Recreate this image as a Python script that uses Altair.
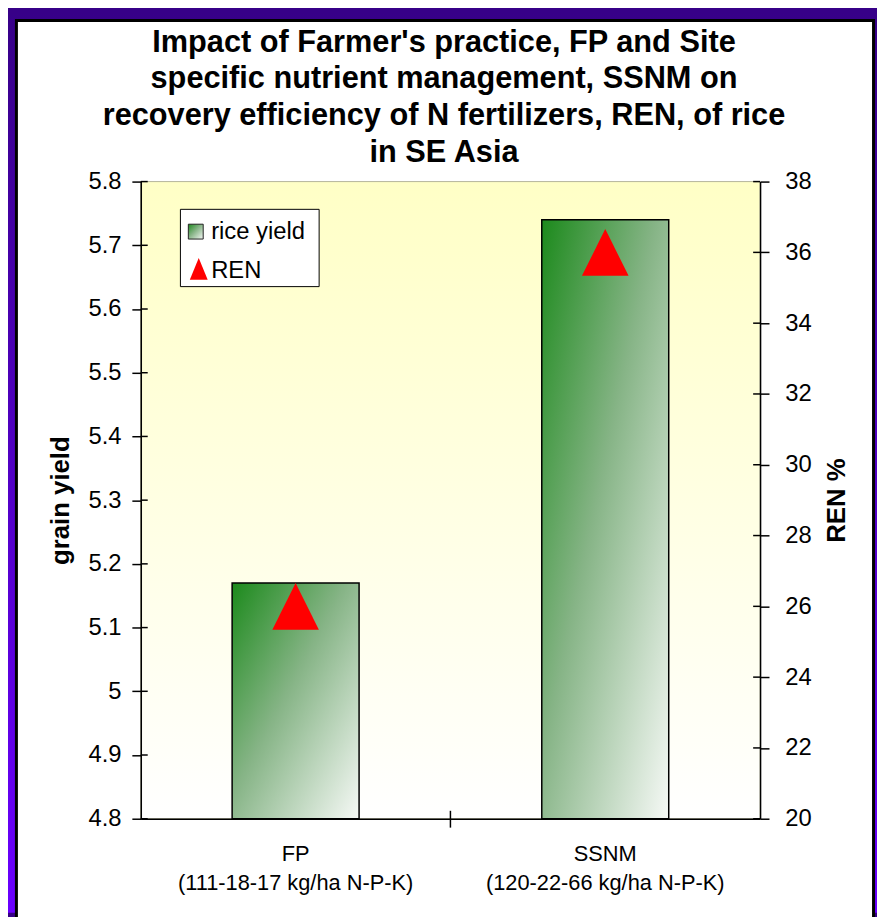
import altair as alt
import pandas as pd

# ---- data ----
codes = ["FP", "SSNM"]
rates = ["(111-18-17 kg/ha N-P-K)", "(120-22-66 kg/ha N-P-K)"]
grain_yield = [5.17, 5.74]
ren = [26, 36]
yield_ticks = [4.8, 4.9, 5.0, 5.1, 5.2, 5.3, 5.4, 5.5, 5.6, 5.7, 5.8]
ren_ticks = [20, 22, 24, 26, 28, 30, 32, 34, 36, 38]
legend_labels = ["rice yield", "REN"]
title_lines = [
    "Impact of Farmer's practice, FP and Site",
    "specific nutrient management, SSNM on",
    "recovery efficiency of N fertilizers, REN, of rice",
    "in SE Asia",
]
y_title = "grain yield"
y2_title = "REN %"

# ---- layout ----
W, H = 625, 643
PL, PT, PR, PB = 134, 171, 118, 95
FONT = "Liberation Sans"

cats = [c + "\n" + r for c, r in zip(codes, rates)]
df = pd.DataFrame({"cat": cats, "grain_yield": grain_yield, "ren": ren})
one = pd.DataFrame({"k": [0]})

xscale = alt.Scale(domain=cats, paddingInner=0, paddingOuter=0)
yscale = alt.Scale(domain=[4.8, 5.8], nice=False, zero=False)
rscale = alt.Scale(domain=[20, 38], nice=False, zero=False)

purple_grad = alt.LinearGradient(
    gradient="linear", x1=0, y1=0, x2=0, y2=1,
    stops=[alt.GradientStop(color="#370088", offset=0),
           alt.GradientStop(color="#6a00ff", offset=1)])
plot_grad = alt.LinearGradient(
    gradient="linear", x1=0, y1=0, x2=0, y2=1,
    stops=[alt.GradientStop(color="#ffffc6", offset=0),
           alt.GradientStop(color="#ffffff", offset=1)])
bar_grad = alt.LinearGradient(
    gradient="linear", x1=0, y1=0, x2=1, y2=1,
    stops=[alt.GradientStop(color="#1c8a1c", offset=0),
           alt.GradientStop(color="#86b486", offset=0.45),
           alt.GradientStop(color="#f6f9f6", offset=1)])

purple = alt.Chart(one).mark_rect(fill=purple_grad).encode(
    x=alt.value(-PL), x2=alt.value(W + PR), y=alt.value(-PT), y2=alt.value(H + PB))
panel = alt.Chart(one).mark_rect(fill="white", stroke="black", strokeWidth=3).encode(
    x=alt.value(-PL + 8.5), x2=alt.value(W + PR - 3.5), y=alt.value(-PT + 8.5), y2=alt.value(H + PB + 20))
plotbg = alt.Chart(one).mark_rect(fill=plot_grad, stroke="#b4b49a", strokeWidth=1).encode(
    x=alt.value(0), x2=alt.value(W), y=alt.value(0), y2=alt.value(H))

xaxis = alt.Axis(title=None, labelExpr="split(datum.label, '\\n')", labelAngle=0,
                 ticks=False, domainColor="black", domainWidth=1.5,
                 labelColor="black", labelFont=FONT, labelFontSize=22,
                 labelLineHeight=29, labelPadding=25, labelLimit=600, zindex=1)

def yaxis(title, values, fmt, orient, tpad, lpad):
    return alt.Axis(title=title, orient=orient, values=values, format=fmt,
                    titleFont=FONT, titleFontSize=26, titleFontWeight="bold",
                    titleColor="black", titlePadding=tpad, titleAngle=270,
                    tickSize=9, tickColor="black", tickWidth=1.5,
                    domainColor="black", domainWidth=1.5,
                    labelFont=FONT, labelFontSize=24, labelColor="black",
                    labelPadding=lpad, grid=False, zindex=1)

left_axis = yaxis(y_title, yield_ticks, "~g", "left", 15, 11)
right_axis = yaxis(y2_title, ren_ticks, "d", "right", 39, 16)

bars = alt.Chart(df).mark_bar(fill=bar_grad, stroke="black", strokeWidth=1.5,
                              width=alt.RelativeBandSize(0.41)).encode(
    x=alt.X("cat:N", scale=xscale, sort=cats, axis=xaxis),
    y=alt.Y("grain_yield:Q", scale=yscale, axis=left_axis),
    y2=alt.datum(4.8),
)
left_inner = alt.Chart(pd.DataFrame({"grain_yield": yield_ticks})).mark_rule(
    color="black", strokeWidth=1.5).encode(
    y=alt.Y("grain_yield:Q", scale=yscale, axis=left_axis),
    x=alt.value(0), x2=alt.value(7))
left_group = alt.layer(bars, left_inner)

tri_path = "M0,-1L1,1L-1,1Z"
tris = alt.Chart(df).mark_point(shape=tri_path, filled=True, fill="#ff0000",
                                opacity=1, size=2209, strokeWidth=0).encode(
    x=alt.X("cat:N", scale=xscale, sort=cats, axis=xaxis),
    y=alt.Y("ren:Q", scale=rscale, axis=right_axis),
)
right_inner = alt.Chart(pd.DataFrame({"ren": ren_ticks})).mark_rule(
    color="black", strokeWidth=1.5).encode(
    y=alt.Y("ren:Q", scale=rscale, axis=right_axis),
    x=alt.value(W - 7), x2=alt.value(W))
right_group = alt.layer(tris, right_inner)

midtick = alt.Chart(pd.DataFrame({"cat": [cats[1]]})).mark_rule(
    color="black", strokeWidth=1.5).encode(
    x=alt.X("cat:N", scale=xscale, sort=cats, bandPosition=0, axis=xaxis),
    y=alt.value(H - 8), y2=alt.value(H + 9))

# legend (drawn by hand so the swatch can carry the gradient)
leg_box = alt.Chart(one).mark_rect(fill="white", stroke="black", strokeWidth=1).encode(
    x=alt.value(40), x2=alt.value(180), y=alt.value(28), y2=alt.value(106))
leg_swatch = alt.Chart(one).mark_rect(fill=bar_grad, stroke="#222222", strokeWidth=1).encode(
    x=alt.value(48), x2=alt.value(63), y=alt.value(43), y2=alt.value(58))
leg_tri = alt.Chart(one).mark_point(shape="M0,-1L0.82,1L-0.82,1Z", filled=True,
                                    fill="#ff0000", opacity=1, size=484, strokeWidth=0).encode(
    x=alt.value(58.5), y=alt.value(88))
leg_t1 = alt.Chart(one).mark_text(align="left", baseline="alphabetic", font=FONT,
                                  fontSize=24, color="black").encode(
    x=alt.value(71), y=alt.value(58), text=alt.value(legend_labels[0]))
leg_t2 = alt.Chart(one).mark_text(align="left", baseline="alphabetic", font=FONT,
                                  fontSize=24, color="black").encode(
    x=alt.value(71), y=alt.value(97), text=alt.value(legend_labels[1]))

title = alt.Chart(one).mark_text(align="center", baseline="alphabetic", font=FONT,
                                 fontSize=31, fontWeight="bold", lineHeight=37,
                                 color="black").encode(
    x=alt.value(306), y=alt.value(-131), text=alt.value(title_lines))

chart = alt.layer(
    purple, panel, plotbg, left_group, right_group, midtick,
    leg_box, leg_swatch, leg_tri, leg_t1, leg_t2, title,
).resolve_scale(y="independent").properties(
    width=W, height=H,
    autosize=alt.AutoSizeParams(type="none"),
    padding={"left": PL, "top": PT, "right": PR, "bottom": PB},
).configure_view(strokeWidth=0).configure(background="#370088")

chart.save("out.html", embed_options={"renderer": "svg", "actions": False})
